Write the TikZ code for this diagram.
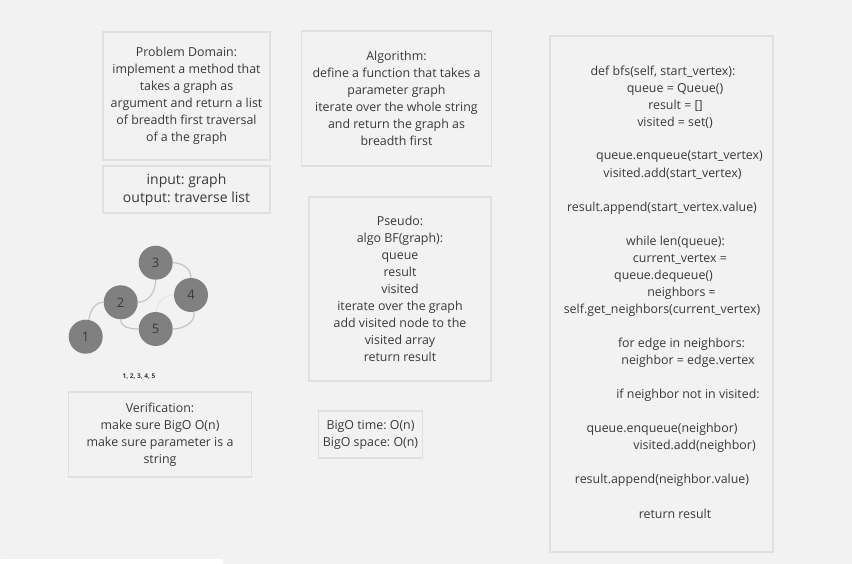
\documentclass[tikz,border=0pt]{standalone}
\usepackage{fontspec}
\setmainfont{Open Sans}
\usetikzlibrary{positioning}
\frenchspacing

\definecolor{pagegray}{HTML}{F2F2F2}
\definecolor{cardline}{HTML}{E0E0E0}
\definecolor{inkgray}{HTML}{3A3A3A}
\definecolor{vertexgray}{HTML}{808080}
\definecolor{linkgray}{HTML}{C4C4C4}

\tikzset{
	card/.style={draw=cardline, fill=pagegray, line width=1.2pt, inner sep=0pt,
		align=center, text=inkgray, font=\fontsize{12.4}{17}\selectfont},
	codeline/.style={inner sep=0pt, text=inkgray, font=\fontsize{12.4}{17}\selectfont},
	vertex/.style={circle, fill=vertexgray, minimum size=34pt, inner sep=0pt,
		text=inkgray, font=\fontsize{13}{15}\selectfont},
	link/.style={draw=linkgray, line width=1.2pt}
}

\begin{document}
\begin{tikzpicture}[x=1pt, y=-1pt]
			\def\W{852};
			\def\H{564};

			\useasboundingbox (0,0) rectangle (\W,\H);
			\fill [pagegray] (0,0) rectangle (\W,\H);
			\fill [white, rounded corners=2pt] (0,559) rectangle (223,570);

			\begin{scope}
				\node [card, minimum width=167pt, minimum height=128pt] (domain) at (186.5,96)
					{Problem Domain:\\implement a method that\\takes a graph as\\argument and return a list\\of breadth first traversal\\of a the graph};
				\node [card, minimum width=167pt, minimum height=47pt, font=\fontsize{14}{18}\selectfont] (io) at (186.5,189.5)
					{input: graph\\output: traverse list};
				\node [card, minimum width=190pt, minimum height=135pt] (algo) at (396.5,98.5)
					{Algorithm:\\define a function that takes a\\parameter graph\\iterate over the whole string\\and return the graph as\\breadth first};
				\node [card, minimum width=182pt, minimum height=184pt] (pseudo) at (400,289)
					{Pseudo:\\algo BF(graph):\\queue\\result\\visited\\iterate over the graph\\add visited node to the\\visited array\\return result};
				\node [card, minimum width=183pt, minimum height=85pt] (verify) at (160,434.5)
					{Verification:\\make sure BigO O(n)\\make sure parameter is a\\string};
				\node [card, minimum width=104pt, minimum height=47pt] (bigo) at (370.5,434.5)
					{BigO time: O(n)\\BigO space: O(n)};
				\node [card, minimum width=223pt, minimum height=516pt] (code) at (661.5,294) {};
			\end{scope}

			\foreach \cx/\k/\ctext [count=\i] in {
					663/0/{def bfs(self, start\_vertex):},
					675/1/{queue = Queue()},
					675.5/2/{result = []},
					675/3/{visited = set()},
					679.5/5/{queue.enqueue(start\_vertex)},
					672.5/6/{visited.add(start\_vertex)},
					662/8/{result.append(start\_vertex.value)},
					675.5/10/{while len(queue):},
					680/11/{current\_vertex =},
					663.5/12/{queue.dequeue()},
					681.5/13/{neighbors =},
					662/14/{self.get\_neighbors(current\_vertex)},
					681.5/16/{for edge in neighbors:},
					688/17/{neighbor = edge.vertex},
					688/19/{if neighbor not in visited:},
					662/21/{queue.enqueue(neighbor)},
					694.5/22/{visited.add(neighbor)},
					662/24/{result.append(neighbor.value)},
					675/26/{return result}}
				\node [codeline] (line\i) at (\cx,72+17*\k) {\ctext};

			\begin{scope}
				\node [vertex] (v1) at (85.7,336.7) {1};
				\node [vertex] (v2) at (120.7,302.3) {2};
				\node [vertex] (v3) at (155.7,262.7) {3};
				\node [vertex] (v4) at (191,295) {4};
				\node [vertex] (v5) at (155.7,329) {5};
			\end{scope}

			\begin{scope}[link]
				\draw (v1.80) to [out=80, in=180] (v2.west);
				\draw (v2.east) to [out=0, in=-90] (v3.south);
				\draw (v3.east) to [out=0, in=90] (v4.north);
				\draw (v2.south) to [out=-90, in=180] (v5.west);
				\draw (v5.east) to [out=0, in=-80] (v4.-80);
				\draw [draw=linkgray!40] (v5.north) to [out=80, in=180] (v4.west);
			\end{scope}

			\node [inner sep=0pt, text=inkgray, font=\fontsize{6.5}{8}\selectfont\bfseries] (order) at (139,377) {1, 2, 3, 4, 5};
		\end{tikzpicture}
\end{document}
